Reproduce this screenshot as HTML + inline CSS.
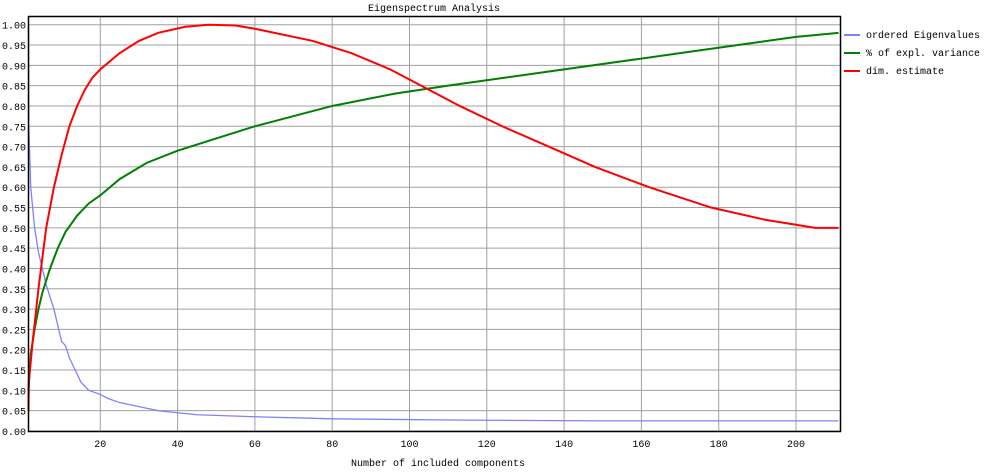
<!DOCTYPE html>
<html><head><meta charset="utf-8"><style>
body{margin:0;background:#fff;}
svg{display:block;font-family:"Liberation Mono","DejaVu Sans Mono",monospace;font-size:10px;}
</style></head><body>
<svg id="chart" width="989" height="473" xmlns="http://www.w3.org/2000/svg">
<text x="434" y="11" text-anchor="middle">Eigenspectrum Analysis</text>
<g id="grid"></g>
<g id="series"></g>
<rect x="28.5" y="16.5" width="812" height="415" fill="none" stroke="#000" stroke-width="1.5"/>
<g id="ticks"></g>
<text x="438" y="466" text-anchor="middle">Number of included components</text>
<g>
<g><line x1="844" y1="35" x2="860" y2="35" stroke="#8080ff" stroke-width="2"/><text x="866" y="38">ordered Eigenvalues</text></g>
<g><line x1="844" y1="53" x2="860" y2="53" stroke="#008000" stroke-width="2"/><text x="866" y="56">% of expl. variance</text></g>
<g><line x1="844" y1="71" x2="860" y2="71" stroke="#ff0000" stroke-width="2"/><text x="866" y="74">dim. estimate</text></g>
</g>
</svg>
<script>
const xTicks=[20,40,60,80,100,120,140,160,180,200];
const yTicks=[0,0.05,0.1,0.15,0.2,0.25,0.3,0.35,0.4,0.45,0.5,0.55,0.6,0.65,0.7,0.75,0.8,0.85,0.9,0.95,1.0];
const eigX=[1,1.5,2,2.5,3,4,5,6,7,8,9,10,11,12,13,14,15,17,20,22,25,30,35,40,45,60,80,110,150,211];
const eigY=[1.0,0.75,0.6,0.55,0.5,0.44,0.4,0.36,0.33,0.3,0.26,0.22,0.21,0.18,0.16,0.14,0.12,0.1,0.09,0.08,0.07,0.06,0.05,0.045,0.04,0.035,0.03,0.027,0.025,0.025];
const varX=[1,2,3,4,5,7,9,11,14,17,20,25,32,40,50,60,72,80,96,110,125,140,155,170,185,200,211];
const varY=[0.1,0.19,0.25,0.3,0.34,0.4,0.45,0.49,0.53,0.56,0.58,0.62,0.66,0.69,0.72,0.75,0.78,0.8,0.83,0.85,0.87,0.89,0.91,0.93,0.95,0.97,0.98];
const dimX=[1,1.5,2.5,4,6,8,10,12,14,16,18,20,25,30,35,42,48,55,60,75,85,95,103,113,124,136,148,162,178,192,205,211];
const dimY=[0.05,0.12,0.22,0.35,0.5,0.6,0.68,0.75,0.8,0.84,0.87,0.89,0.93,0.96,0.98,0.995,1.0,0.998,0.99,0.96,0.93,0.89,0.85,0.8,0.75,0.7,0.65,0.6,0.55,0.52,0.5,0.5];
const X0=28.5,X1=840.5,Y0=431,Y1=16.5;
const xs=v=>100.3+(v-20)*3.865;
const ys=v=>431-v*406.3;
const NS="http://www.w3.org/2000/svg";
const grid=document.getElementById('grid'),ticks=document.getElementById('ticks'),ser=document.getElementById('series');
function mk(t,a,p){const e=document.createElementNS(NS,t);for(const k in a)e.setAttribute(k,a[k]);p.appendChild(e);return e;}
xTicks.forEach(v=>{
 const l=mk('line',{x1:xs(v),x2:xs(v),y1:Y1,y2:Y0,stroke:'#a0a0a0','stroke-width':1},grid);
 
 
 const t=mk('text',{x:xs(v),y:447,'text-anchor':'middle'},ticks);t.textContent=v;
 
 
});
yTicks.forEach(v=>{
 const l=mk('line',{x1:X0,x2:X1,y1:ys(v),y2:ys(v),stroke:'#a0a0a0','stroke-width':1},grid);
 
 
 const t=mk('text',{x:26,y:ys(v)+4,'text-anchor':'end'},ticks);t.textContent=v.toFixed(2);
 
 
});
function line(xa,ya,col,w,name){
 const p=mk('polyline',{points:xa.map((x,i)=>Math.max(X0,xs(x))+','+ys(ya[i])).join(' '),fill:'none',stroke:col,'stroke-width':w},ser);
 
 
}
line(eigX,eigY,'#8080ff',1.3,'eigenvalues-line');
line(varX,varY,'#008000',2,'variance-line');
line(dimX,dimY,'#ff0000',2,'dim-estimate-line');
</script>
</body></html>
